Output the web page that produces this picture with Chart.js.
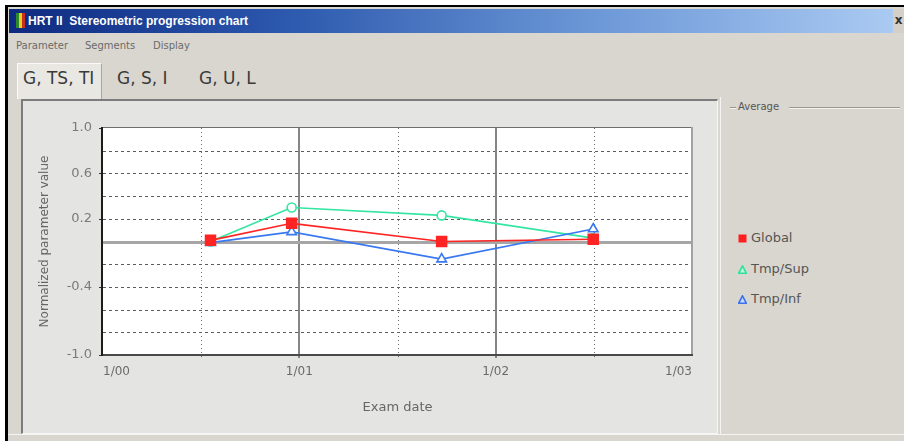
<!DOCTYPE html>
<html>
<head>
<meta charset="utf-8">
<title>HRT II Stereometric progression chart</title>
<script src="https://cdn.jsdelivr.net/npm/chart.js@4.4.1/dist/chart.umd.min.js"></script>
<style>
  html, body { margin: 0; padding: 0; background: #ffffff; }
  body { width: 904px; height: 441px; position: relative; overflow: hidden; font-family: "DejaVu Sans", sans-serif; }
  .abs { position: absolute; }
  #frame { left: 5px; top: 5px; width: 899px; height: 436px; background: #d9d6cf; border-top: 2px solid #000; border-left: 3px solid #000; box-sizing: border-box; }
  #titlebar { left: 9px; top: 9px; width: 884px; height: 24px; background: linear-gradient(90deg, #0e2a80 0%, #2a56ac 30%, #6a96d6 65%, #aacaf2 100%); }
  #title { left: 28px; top: 14px; color: #fff; font: bold 12px "Liberation Sans", sans-serif; white-space: pre; }
  #closebtn { left: 893px; top: 9px; width: 11px; height: 24px; background: #d4d0c8; color: #333; font: bold 12px "DejaVu Sans", sans-serif; line-height: 22px; text-align: center; }
  .menu { top: 40px; font-size: 10px; color: #6a6a6a; }
  #tabsel { left: 17px; top: 63px; width: 85px; height: 36px; background: #e9e7e2; border-top: 1px solid #fafafa; border-left: 1px solid #fafafa; border-right: 1px solid #a8a6a0; box-sizing: border-box; }
  .tab { top: 68px; font-size: 17px; color: #3a3a3a; white-space: pre; }
  #panel { left: 21px; top: 99px; width: 697px; height: 335px; background: #e4e4e2; border-top: 2px solid #7c7c7c; border-left: 2px solid #7c7c7c; border-right: 1px solid #f6f6f6; border-bottom: 1px solid #f6f6f6; box-sizing: border-box; }
  #rightpanel { left: 720px; top: 97px; width: 184px; height: 337px; background: #d9d6cf; border-left: 1px solid #f4f4f2; box-sizing: border-box; }
  #chartbox { left: 23px; top: 102px; width: 692px; height: 330px; }
  .gline { height: 1px; background: #9a9890; border-bottom: 1px solid #f2f2f0; }
  #avg { left: 738px; top: 101px; font-size: 10px; color: #555; }
  .leg { left: 738px; font-size: 13px; line-height: 16px; color: #555; white-space: nowrap; }
  .leg svg { vertical-align: -1px; margin-right: 4px; }
  #bottomline { left: 8px; top: 434px; width: 896px; height: 1px; background: #f4f4f2; }
</style>
</head>
<body>
<div id="frame" class="abs"></div>
<div id="titlebar" class="abs"></div>
<div class="abs" style="left:16px;top:13px;width:3px;height:15px;background:#2c8a2c"></div>
<div class="abs" style="left:19px;top:13px;width:3px;height:15px;background:#e8d020"></div>
<div class="abs" style="left:22px;top:13px;width:3px;height:15px;background:#c83020"></div>
<div id="title" class="abs">HRT II  Stereometric progression chart</div>
<div id="closebtn" class="abs">x</div>

<div class="abs menu" style="left:16px">Parameter</div>
<div class="abs menu" style="left:85px">Segments</div>
<div class="abs menu" style="left:153px">Display</div>

<div id="tabsel" class="abs"></div>
<div class="abs tab" style="left:23px">G, TS, TI</div>
<div class="abs tab" style="left:117px">G, S, I</div>
<div class="abs tab" style="left:199px">G, U, L</div>

<div id="panel" class="abs"></div>
<div id="rightpanel" class="abs"></div>
<div class="abs gline" style="left:730px;top:107px;width:6px"></div>
<div class="abs gline" style="left:789px;top:107px;width:111px"></div>
<div id="avg" class="abs">Average</div>

<div class="abs leg" style="top:230px"><svg width="9" height="9"><rect x="0.5" y="0.5" width="8" height="8" fill="#ff1e1e"/></svg>Global</div>
<div class="abs leg" style="top:261px"><svg width="9" height="9"><polygon points="4.5,0.8 8.3,8.2 0.7,8.2" fill="#b8f5da" stroke="#2ee29a" stroke-width="1.6"/></svg>Tmp/Sup</div>
<div class="abs leg" style="top:291px"><svg width="9" height="9"><polygon points="4.5,0.8 8.3,8.2 0.7,8.2" fill="#c9d9ff" stroke="#3a72ee" stroke-width="1.6"/></svg>Tmp/Inf</div>

<div id="bottomline" class="abs"></div>

<div id="chartbox" class="abs"><canvas id="chart" width="692" height="330"></canvas></div>

<script>
// Exam dates and normalized stereometric parameter values
const examDates = ['2000-07-19', '2000-12-17', '2001-09-22', '2002-07-01'];
const globalValues = [0.01, 0.16, 0.0, 0.02];
const tmpSupValues = [0.0, 0.30, 0.23, 0.03];
const tmpInfValues = [-0.01, 0.085, -0.155, 0.11];

// Axis ticks: years since 1/00 and their labels
const xTickValues = [0, 1, 2, 3];
const xTickLabels = ['1/00', '1/01', '1/02', '1/03'];
const xHalfYearValues = [0.5, 1.5, 2.5];
const yTickValues = [-1.0, -0.4, 0.2, 0.6, 1.0];
const yTickLabels = ['-1.0', '-0.4', '0.2', '0.6', '1.0'];
const yGridValues = [-0.8, -0.6, -0.4, -0.2, 0.2, 0.4, 0.6, 0.8];

const START = Date.UTC(2000, 0, 1);
const YEAR_MS = 365.25 * 86400000;
const toYears = s => (Date.parse(s + 'T00:00:00Z') - START) / YEAR_MS;
const points = vals => examDates.map((d, i) => ({ x: toYears(d), y: vals[i] }));

// White plot area, dashed/dotted grid, zero line and plot frame
const plotDecor = {
  id: 'plotDecor',
  beforeDraw(chart) {
    const { ctx, chartArea: a } = chart;
    ctx.save();
    ctx.fillStyle = '#ffffff';
    ctx.fillRect(a.left, a.top, a.right - a.left, a.bottom - a.top);
    ctx.restore();
  },
  beforeDatasetsDraw(chart) {
    const { ctx, chartArea: a, scales: { x, y } } = chart;
    const line = (x1, y1, x2, y2) => { ctx.beginPath(); ctx.moveTo(x1, y1); ctx.lineTo(x2, y2); ctx.stroke(); };
    ctx.save();
    // horizontal dashed lines
    ctx.lineWidth = 1;
    ctx.strokeStyle = '#5c5c5c';
    ctx.setLineDash([3, 3]);
    yGridValues.forEach(v => {
      const py = Math.round(y.getPixelForValue(v)) + 0.5;
      line(a.left, py, a.right, py);
    });
    // half-year dotted verticals
    ctx.strokeStyle = '#6a6a6a';
    ctx.setLineDash([1, 3]);
    xHalfYearValues.forEach(v => {
      const px = Math.round(x.getPixelForValue(v)) + 0.5;
      line(px, a.top, px, a.bottom + 4);
    });
    // year verticals
    ctx.setLineDash([]);
    ctx.strokeStyle = '#858585';
    ctx.lineWidth = 2;
    xTickValues.slice(1, -1).forEach(v => {
      const px = Math.round(x.getPixelForValue(v));
      line(px, a.top, px, a.bottom + 3);
    });
    // zero line
    ctx.strokeStyle = '#a6a6a6';
    ctx.lineWidth = 3;
    const pz = Math.round(y.getPixelForValue(0)) + 0.5;
    line(a.left, pz, a.right, pz);
    // small tick marks beside labeled values
    ctx.strokeStyle = '#333';
    ctx.lineWidth = 1;
    yTickValues.forEach(v => {
      const py = Math.round(y.getPixelForValue(v)) + 0.5;
      line(a.left - 4, py, a.left, py);
    });
    ctx.restore();
  },
  afterDraw(chart) {
    const { ctx, chartArea: a } = chart;
    ctx.save();
    ctx.fillStyle = '#6e6e6e';
    ctx.fillRect(a.left, a.top - 1, a.right - a.left, 1);
    ctx.fillStyle = '#a2a2a2';
    ctx.fillRect(a.right - 1, a.top - 1, 2, a.bottom - a.top + 2);
    ctx.fillStyle = '#4a4a4a';
    ctx.fillRect(a.left - 1, a.bottom - 1, a.right - a.left + 2, 2);
    ctx.fillStyle = '#1c1c1c';
    ctx.fillRect(a.left - 2, a.top - 1, 2, a.bottom - a.top + 2);
    ctx.restore();
  }
};

const line = (label, vals, color, style, radius, fill) => ({
  label,
  data: points(vals),
  borderColor: color,
  backgroundColor: fill,
  borderWidth: 1.6,
  pointStyle: style,
  pointRadius: radius,
  pointBorderColor: color,
  pointBackgroundColor: fill,
  pointBorderWidth: 1.6,
  tension: 0,
  fill: false
});

new Chart(document.getElementById('chart'), {
  type: 'line',
  data: {
    datasets: [
      line('Global', globalValues, '#ff2424', 'rect', 7, '#ff2424'),
      line('Tmp/Inf', tmpInfValues, '#3a78f0', 'triangle', 5.5, '#ffffff'),
      line('Tmp/Sup', tmpSupValues, '#34e6a2', 'circle', 4.5, '#ffffff')
    ]
  },
  options: {
    responsive: false,
    animation: false,
    devicePixelRatio: 1,
    layout: { padding: { left: 0, right: 23, top: 26, bottom: 0 } },
    plugins: { legend: { display: false }, tooltip: { enabled: false } },
    scales: {
      x: {
        type: 'linear',
        min: 0,
        max: 3,
        afterFit(s) { s.height = 77; },
        afterBuildTicks(s) { s.ticks = xTickValues.map(v => ({ value: v })); },
        ticks: {
          autoSkip: false,
          maxRotation: 0,
          align: 'inner',
          padding: 10,
          color: '#6a6a6a',
          font: { family: 'DejaVu Sans', size: 12 },
          callback: v => xTickLabels[xTickValues.indexOf(v)] ?? ''
        },
        grid: { display: false, drawTicks: false },
        border: { display: false },
        title: {
          display: true,
          text: 'Exam date',
          color: '#666',
          font: { family: 'DejaVu Sans', size: 13 },
          padding: { top: 0, bottom: 17 }
        }
      },
      y: {
        min: -1,
        max: 1,
        afterFit(s) { s.width = 80; },
        afterBuildTicks(s) { s.ticks = yTickValues.map(v => ({ value: v })); },
        ticks: {
          autoSkip: false,
          padding: 11,
          color: '#7a7a7a',
          font: { family: 'DejaVu Sans', size: 13 },
          callback: v => yTickLabels[yTickValues.indexOf(v)] ?? ''
        },
        grid: { display: false, drawTicks: false },
        border: { display: false },
        title: {
          display: true,
          text: 'Normalized parameter value',
          color: '#666',
          font: { family: 'DejaVu Sans', size: 12 },
          padding: { top: 15, bottom: 0 }
        }
      }
    }
  },
  plugins: [plotDecor]
});
</script>
</body>
</html>
